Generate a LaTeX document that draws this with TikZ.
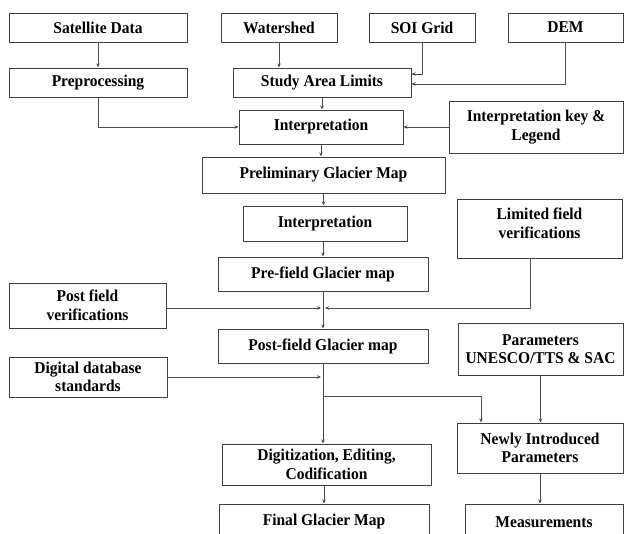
\documentclass[tikz,border=0pt]{standalone}
\usepackage{fontspec}
\setmainfont{Liberation Serif}[FakeStretch=0.94]
\usepackage{tikz}
\usetikzlibrary{arrows.meta}

\begin{document}
\begin{tikzpicture}[x=1pt, y=-1pt,
  box/.style={draw=black!75, line width=1pt, align=center, inner sep=0pt,
    font=\fontsize{16.5}{18.5}\selectfont\bfseries},
  line/.style={draw=black!70, line width=0.8pt},
  >={Stealth[length=4pt,width=3.5pt]}]

  \useasboundingbox (0,0) rectangle (624,533);
  \clip (0,0) rectangle (624,533);

  \node[box, minimum width=178pt, minimum height=29pt] (sat) at (98,27.5) {Satellite Data};
  \node[box, minimum width=116pt, minimum height=29pt] (shed) at (279,27.5) {Watershed};
  \node[box, minimum width=106pt, minimum height=29pt] (soi) at (422,27.5) {SOI Grid};
  \node[box, minimum width=115pt, minimum height=29pt] (dem) at (565.5,27.5) {DEM};
  \node[box, minimum width=178pt, minimum height=29pt] (prep) at (98,82.5) {Preprocessing};
  \node[box, minimum width=178pt, minimum height=29pt] (area) at (322,82.5) {Study Area Limits};
  \node[box, minimum width=164pt, minimum height=34pt] (interp) at (321,127) {Interpretation};
  \node[box, minimum width=174pt, minimum height=52pt] (key) at (536,127) {Interpretation key \&\\Legend};
  \node[box, minimum width=243pt, minimum height=36pt] (prelim) at (323.5,175) {Preliminary Glacier Map};
  \node[box, minimum width=164pt, minimum height=35pt] (interp2) at (325,223.5) {Interpretation};
  \node[box, minimum width=165pt, minimum height=59pt] (limfv) at (539.5,228.5) {Limited field\\verifications\\[-8pt]\mbox{}};
  \node[box, minimum width=210pt, minimum height=34pt] (prefld) at (323,274) {Pre-field Glacier map};
  \node[box, minimum width=157pt, minimum height=45pt] (postfv) at (87.5,305.5) {Post field\\verifications};
  \node[box, minimum width=210pt, minimum height=34pt] (postfld) at (323,346) {Post-field Glacier map};
  \node[box, minimum width=165pt, minimum height=52pt] (param) at (540.5,349) {Parameters\\UNESCO/TTS \& SAC};
  \node[box, minimum width=158pt, minimum height=40pt] (dbstd) at (88,377) {Digital database\\standards};
  \node[box, minimum width=166pt, minimum height=50pt] (newpar) at (540,448) {Newly Introduced\\Parameters};
  \node[box, minimum width=209pt, minimum height=41pt] (digit) at (326.5,464.5) {Digitization, Editing,\\Codification};
  \node[box, minimum width=210pt, minimum height=36pt] (final) at (324,522) {Final Glacier Map};
  \node[box, minimum width=158pt, minimum height=36pt] (meas) at (544,522) {Measurements};

  \coordinate (fj) at (prefld.south |- 0,308);
  \coordinate (dj) at (postfld.south |- dbstd.east);
  \coordinate (bj) at (postfld.south |- 0,396);

  \draw[line,->] (sat) -- (prep);
  \draw[line,->] (shed.south) -- (shed.south |- area.north);
  \draw[line,->] (soi.south) |- ([yshift=8.5pt]area.east);
  \draw[line,->] (dem.south) |- ([yshift=-1.5pt]area.east);
  \draw[line,->] (area.south) -- (area.south |- interp.north);
  \draw[line,->] (prep.south) |- (interp.west);
  \draw[line,->] (key) -- (interp);
  \draw[line,->] (interp.south) -- (interp.south |- prelim.north);
  \draw[line,->] (prelim.south) -- (prelim.south |- interp2.north);
  \draw[line,->] (prefld.north |- interp2.south) -- (prefld.north);
  \draw[line,->] (prefld.south) -- (prefld.south |- postfld.north);
  \draw[line,->] (postfv.east |- fj) -- ([xshift=-2pt]fj);
  \draw[line,->] ([xshift=-9.5pt]limfv.south) |- ([xshift=2pt]fj);
  \draw[line,->] (postfld.south) -- (postfld.south |- digit.north);
  \draw[line,->] (dbstd.east) -- ([xshift=-2pt]dj);
  \draw[line,->] (bj) -| ([xshift=-59pt]newpar.north);
  \draw[line,->] (param.south) -- (param.south |- newpar.north);
  \draw[line,->] (final.north |- digit.south) -- (final.north);
  \draw[line,->] (newpar.south) -- (newpar.south |- meas.north);
\end{tikzpicture}
\end{document}
